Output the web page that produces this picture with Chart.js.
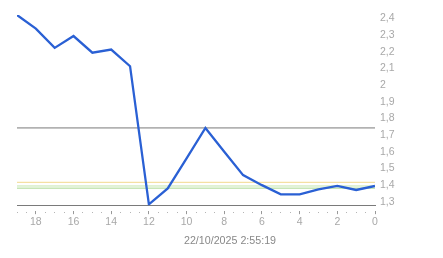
<!DOCTYPE html>
<html>
<head>
<meta charset="utf-8">
<script src="https://cdn.jsdelivr.net/npm/chart.js"></script>
<style>
  html, body { margin: 0; padding: 0; background: #fff; }
  canvas { display: block; }
</style>
</head>
<body>
<canvas id="myChart" width="443" height="258"></canvas>
<script>
// x positions, counted back from the most recent sample
const steps = [19, 18, 17, 16, 15, 14, 13, 12, 11, 10, 9, 8, 7, 6, 5, 4, 3, 2, 1, 0];
const values = [2.42, 2.338, 2.223, 2.294, 2.194, 2.213, 2.113, 1.285, 1.38, 1.56, 1.743, 1.60, 1.46, 1.40, 1.345, 1.345, 1.374, 1.395, 1.371, 1.395];

// horizontal reference levels
const refGray = 1.743;
const refYellow = 1.417;
const refGreen1 = 1.395;
const refGreen2 = 1.382;

const yTicks = [1.3, 1.4, 1.5, 1.6, 1.7, 1.8, 1.9, 2.0, 2.1, 2.2, 2.3, 2.4];
const xTicks = [0, 0.5, 1, 1.5, 2, 2.5, 3, 3.5, 4, 4.5, 5, 5.5, 6, 6.5, 7, 7.5, 8, 8.5, 9, 9.5,
    10, 10.5, 11, 11.5, 12, 12.5, 13, 13.5, 14, 14.5, 15, 15.5, 16, 16.5, 17, 17.5, 18, 18.5, 19];
const title = "22/10/2025 2:55:19";

const font = "'Liberation Sans', Arial, sans-serif";
const isMajor = (v) => v % 2 === 0;

const refLine = (v, color) => ({
    data: [{ x: 19, y: v }, { x: 0, y: v }],
    borderColor: color,
    borderWidth: 1,
    pointRadius: 0,
    order: 2,
});

new Chart(document.getElementById("myChart"), {
    type: "line",
    data: {
        datasets: [
            {
                data: steps.map((s, i) => ({ x: s, y: values[i] })),
                borderColor: "#2a60d4",
                borderWidth: 2.3,
                pointRadius: 0,
                tension: 0,
                order: 1,
            },
            refLine(refGray, "#7a7a7a"),
            refLine(refYellow, "#f2d98c"),
            refLine(refGreen1, "#c4e6ae"),
            refLine(refGreen2, "#a9d98f"),
        ],
    },
    options: {
        responsive: false,
        animation: false,
        layout: { padding: { left: 17, top: 15, right: 0, bottom: 11 } },
        scales: {
            x: {
                type: "linear",
                reverse: true,
                min: 0,
                max: 19,
                afterBuildTicks: (scale) => {
                    scale.ticks = xTicks.map((v) => ({ value: v }));
                },
                afterFit: (scale) => {
                    scale.height = 29;
                },
                border: { display: true, color: "#7a7a7a", width: 1 },
                grid: {
                    drawOnChartArea: false,
                    drawTicks: true,
                    tickLength: 9,
                    tickWidth: 1,
                    tickColor: (ctx) => (ctx.tick && isMajor(ctx.tick.value) ? "#999999" : "#b5b5b5"),
                    tickBorderDash: (ctx) => (ctx.tick && isMajor(ctx.tick.value) ? [0, 5, 4] : [0, 6, 1, 2]),
                },
                ticks: {
                    autoSkip: false,
                    maxRotation: 0,
                    padding: 2,
                    color: "#a8a8a8",
                    font: { family: font, size: 10.5 },
                    callback: (v) => (isMajor(v) ? String(v) : ""),
                },
            },
            y: {
                type: "linear",
                position: "right",
                min: 1.28,
                max: 2.42,
                afterBuildTicks: (scale) => {
                    scale.ticks = yTicks.map((v) => ({ value: v }));
                },
                afterFit: (scale) => {
                    scale.width = 68;
                },
                border: { display: false },
                grid: { display: false, drawTicks: false },
                ticks: {
                    padding: 5,
                    color: "#a8a8a8",
                    font: { family: font, size: 10.5 },
                    callback: (v) => String(+v.toFixed(1)).replace(".", ","),
                },
            },
        },
        plugins: {
            legend: { display: false },
            tooltip: { enabled: false },
            title: {
                display: true,
                position: "bottom",
                text: title,
                color: "#888888",
                font: { family: font, size: 10.7, weight: "normal", lineHeight: 1.2 },
                padding: { top: 0, bottom: 0 },
            },
        },
    },
});
</script>
</body>
</html>
